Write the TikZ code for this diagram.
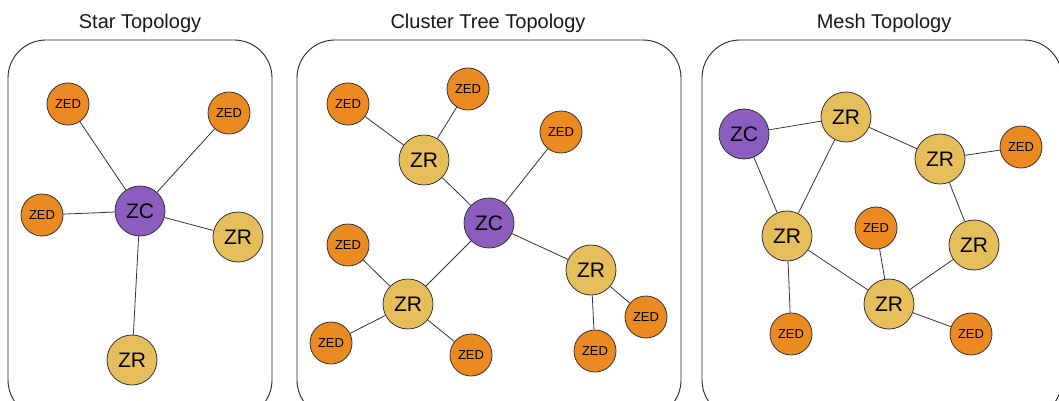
\documentclass[tikz,border=0pt]{standalone}
\usepackage{fontspec}
\setmainfont{Liberation Sans}
\definecolor{zedc}{HTML}{EB8A20}
\definecolor{zrc}{HTML}{E6BE5C}
\definecolor{zcc}{HTML}{8A5DBE}
\definecolor{edgec}{HTML}{333333}
\begin{document}
\begin{tikzpicture}[x=1pt,y=-1pt,
  panel/.style={draw=black!85, line width=0.9pt, rounded corners=38pt},
  ttl/.style={font=\fontsize{20}{24}\selectfont, text=black!90},
  zed/.style={circle, draw=edgec, line width=0.8pt, fill=zedc, minimum size=42pt, inner sep=0pt, font=\fontsize{13}{15}\selectfont},
  zr/.style={circle, draw=edgec, line width=0.8pt, fill=zrc, minimum size=50pt, inner sep=0pt, font=\fontsize{21}{24}\selectfont},
  zc/.style={circle, draw=edgec, line width=0.8pt, fill=zcc, minimum size=50pt, inner sep=0pt, font=\fontsize{21}{24}\selectfont},
  link/.style={draw=edgec, line width=0.8pt}]
\useasboundingbox (0,0) rectangle (1059,401);
\clip (0,0) rectangle (1059,401);
% panels
\draw[panel] (8,40) rectangle (272,418);
\draw[panel] (297,40) rectangle (681,418);
\draw[panel] (702,40) rectangle (1062,418);
% titles
\node[ttl] (t1) at (140,23) {Star Topology};
\node[ttl] (t2) at (488,23) {Cluster Tree Topology};
\node[ttl] (t3) at (884,23) {Mesh Topology};
% star
\node[zed] (s1) at (68,104) {ZED};
\node[zed] (s2) at (229,113) {ZED};
\node[zed] (s3) at (42,215) {ZED};
\node[zc]  (sc) at (140,211) {ZC};
\node[zr]  (s4) at (238,237) {ZR};
\node[zr]  (s5) at (132,360) {ZR};
\draw[link] (sc) -- (s1);
\draw[link] (sc) -- (s2);
\draw[link] (sc) -- (s3);
\draw[link] (sc) -- (s4);
\draw[link] (sc) -- (s5);
% cluster tree
\node[zed] (ca) at (348,104) {ZED};
\node[zed] (cb) at (468,89) {ZED};
\node[zed] (cc) at (561,132) {ZED};
\node[zr]  (rt) at (424,160) {ZR};
\node[zc]  (cz) at (489,223) {ZC};
\node[zed] (cd) at (348,245) {ZED};
\node[zr]  (rl) at (408,304) {ZR};
\node[zr]  (rr) at (591,270) {ZR};
\node[zed] (ce) at (331,343) {ZED};
\node[zed] (cf) at (471,355) {ZED};
\node[zed] (cg) at (595,351) {ZED};
\node[zed] (ch) at (646,317) {ZED};
\draw[link] (ca) -- (rt);
\draw[link] (cb) -- (rt);
\draw[link] (rt) -- (cz);
\draw[link] (cc) -- (cz);
\draw[link] (cz) -- (rl);
\draw[link] (cz) -- (rr);
\draw[link] (cd) -- (rl);
\draw[link] (ce) -- (rl);
\draw[link] (cf) -- (rl);
\draw[link] (rr) -- (cg);
\draw[link] (rr) -- (ch);
% mesh
\node[zc]  (mc) at (744,134) {ZC};
\node[zr]  (m1) at (846,117) {ZR};
\node[zr]  (m2) at (940,159) {ZR};
\node[zed] (e1) at (1021,147) {ZED};
\node[zr]  (m3) at (787,236) {ZR};
\node[zed] (e2) at (876,228) {ZED};
\node[zr]  (m4) at (974,245) {ZR};
\node[zr]  (m5) at (889,304) {ZR};
\node[zed] (e3) at (791,334) {ZED};
\node[zed] (e4) at (971,334) {ZED};
\draw[link] (mc) -- (m1);
\draw[link] (mc) -- (m3);
\draw[link] (m1) -- (m3);
\draw[link] (m1) -- (m2);
\draw[link] (m2) -- (e1);
\draw[link] (m2) -- (m4);
\draw[link] (m3) -- (m5);
\draw[link] (m3) -- (e3);
\draw[link] (e2) -- (m5);
\draw[link] (m4) -- (m5);
\draw[link] (m5) -- (e4);
\end{tikzpicture}
\end{document}
